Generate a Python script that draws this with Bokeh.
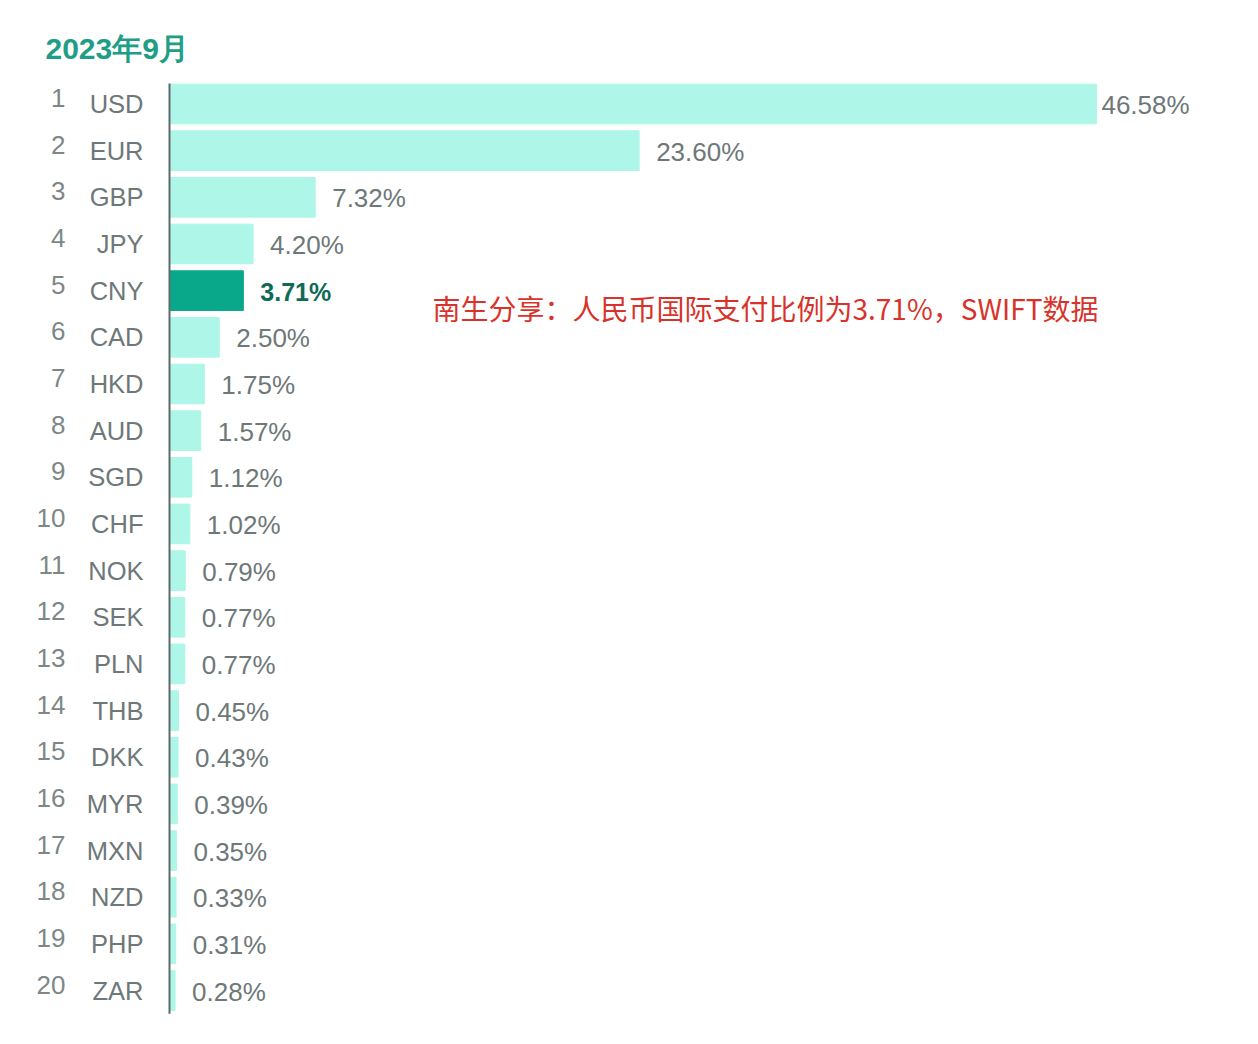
from bokeh.plotting import figure
from bokeh.models import Range1d, Label, ColumnDataSource
from bokeh.core.properties import value
from bokeh.embed import file_html
from bokeh.resources import INLINE

ranks = list(range(1, 21))
currencies = ["USD", "EUR", "GBP", "JPY", "CNY", "CAD", "HKD", "AUD", "SGD", "CHF",
              "NOK", "SEK", "PLN", "THB", "DKK", "MYR", "MXN", "NZD", "PHP", "ZAR"]
shares = [46.58, 23.60, 7.32, 4.20, 3.71, 2.50, 1.75, 1.57, 1.12, 1.02,
          0.79, 0.77, 0.77, 0.45, 0.43, 0.39, 0.35, 0.33, 0.31, 0.28]
highlight = "CNY"
title_text = "2023年9月"
note_text = "南生分享：人民币国际支付比例为3.71%，SWIFT数据"

W, H = 1240, 1026
axis_px = 169          # canvas x of the value axis (0 %)
px_per_unit = 19.9
row_top_px = 103.5     # canvas y of row 1 centre
row_step = 46.66

x_start = -axis_px / px_per_unit
x_end = (W - axis_px) / px_per_unit
y_top = 1 - row_top_px / row_step
y_bottom = 1 + (H - row_top_px) / row_step

LIGHT = "#aef6e7"
DARK = "#0aa88a"

p = figure(width=W, height=H, output_backend="svg", toolbar_location=None,
           x_range=Range1d(x_start, x_end), y_range=Range1d(y_bottom, y_top),
           x_axis_location=None, y_axis_location=None, min_border=0,
           outline_line_color=None, background_fill_color="white",
           border_fill_color="white")
p.xgrid.visible = False
p.ygrid.visible = False

is_hl = [c == highlight for c in currencies]
src = ColumnDataSource(dict(
    y=ranks, v=shares, cur=currencies, rank=[str(r) for r in ranks],
    color=[DARK if h else LIGHT for h in is_hl],
))

p.hbar(y="y", left=0, right="v", height=0.85, color="color", source=src)

# vertical axis line
p.segment(x0=[0], x1=[0], y0=[0.56], y1=[20.5], line_color="#5f6b6b", line_width=2)

# value labels
normal = ColumnDataSource(dict(
    v=[s for s, h in zip(shares, is_hl) if not h],
    y=[r for r, h in zip(ranks, is_hl) if not h],
    lab=[f"{s:.2f}%" for s, h in zip(shares, is_hl) if not h],
    xoff=[5 if s == max(shares) else 17 for s, h in zip(shares, is_hl) if not h],
))
hl = ColumnDataSource(dict(
    v=[s for s, h in zip(shares, is_hl) if h],
    y=[r for r, h in zip(ranks, is_hl) if h],
    lab=[f"{s:.2f}%" for s, h in zip(shares, is_hl) if h],
))
p.text(x="v", y="y", text="lab", x_offset="xoff", y_offset=1, source=normal,
       text_font=value("Liberation Sans"), text_font_size="26px",
       text_color="#6e7878", text_baseline="middle", text_align="left")
p.text(x="v", y="y", text="lab", x_offset=17, y_offset=1, source=hl,
       text_font=value("Liberation Sans"), text_font_size="25px",
       text_font_style="bold", text_color="#106a58",
       text_baseline="middle", text_align="left")

# currency codes and ranks
p.text(x=0, y="y", text="cur", x_offset=-26, y_offset=0, source=src,
       text_font=value("Liberation Sans"), text_font_size="25.5px",
       text_color="#6e7878", text_baseline="middle", text_align="right")
p.text(x=0, y="y", text="rank", x_offset=-104, y_offset=-6, source=src,
       text_font=value("Liberation Sans"), text_font_size="26px",
       text_color="#7d8787", text_baseline="middle", text_align="right")

p.add_layout(Label(x=45, y=H - 48, x_units="screen", y_units="screen",
                   text=title_text, text_font="Liberation Sans",
                   text_font_size="30px", text_font_style="bold",
                   text_color="#1e9e86", text_baseline="middle"))
p.add_layout(Label(x=432, y=H - 307, x_units="screen", y_units="screen",
                   text=note_text, text_font="Noto Sans CJK SC",
                   text_font_size="28px", text_color="#d8332b",
                   text_baseline="middle"))

open("out.html", "w").write(file_html(p, INLINE))
